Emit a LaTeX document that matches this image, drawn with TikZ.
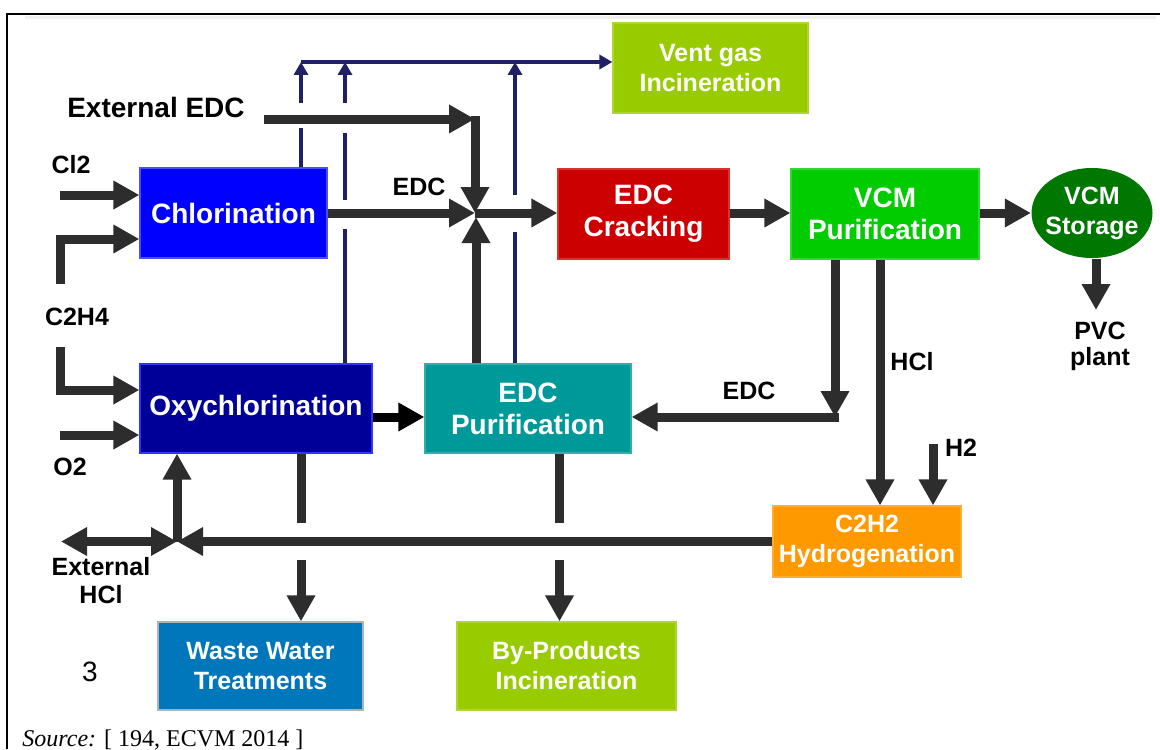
\documentclass[tikz,border=0pt]{standalone}
\usepackage{fontspec}
\setmainfont{Liberation Sans}
\newfontfamily\VcmSrcFont{Liberation Serif}
\usetikzlibrary{arrows.meta,shapes.geometric}

\definecolor{chlblue}{RGB}{0,0,255}
\definecolor{oxynavy}{RGB}{0,0,153}
\definecolor{crackred}{RGB}{204,0,0}
\definecolor{vcmgreen}{RGB}{0,204,0}
\definecolor{storegreen}{RGB}{0,119,0}
\definecolor{purteal}{RGB}{0,153,153}
\definecolor{hydorange}{RGB}{255,153,0}
\definecolor{incinlime}{RGB}{153,204,0}
\definecolor{wasteblue}{RGB}{0,119,187}
\definecolor{flowgray}{RGB}{45,45,45}
\definecolor{ventnavy}{RGB}{31,33,100}

\def\VcmFlowLW{4.5pt}
\def\VcmVentLW{2pt}
\def\VcmBoxFont{\fontsize{14}{16}\selectfont\bfseries}
\def\VcmBoxSmallFont{\fontsize{12.5}{15}\selectfont\bfseries}
\def\VcmLabelFont{\fontsize{12.5}{14}\selectfont\bfseries}
\newcommand{\VcmFlowStyles}{%
  \tikzset{
    vcbox/.style={rectangle, inner sep=0pt, align=center, text=white,
      font=\VcmBoxFont, line width=0.6pt},
    vcboxSmall/.style={vcbox, font=\VcmBoxSmallFont},
    vcboxChl/.style={vcbox, fill=chlblue, draw=chlblue!70!white,
      minimum width=93.5pt, minimum height=45pt},
    vcboxOxy/.style={vcbox, fill=oxynavy, draw=chlblue!80!white,
      minimum width=116pt, minimum height=44.5pt},
    vcboxCrack/.style={vcbox, fill=crackred, draw=crackred!80!white,
      minimum width=85.5pt, minimum height=45pt},
    vcboxVcm/.style={vcbox, fill=vcmgreen, draw=vcmgreen!80!white,
      minimum width=94pt, minimum height=45pt},
    vcboxStore/.style={vcboxSmall, ellipse, fill=storegreen, draw=none,
      inner sep=-2.5pt, minimum width=60.5pt, minimum height=45pt},
    vcboxVent/.style={vcboxSmall, fill=incinlime, draw=incinlime!80!white,
      minimum width=97.5pt, minimum height=45pt},
    vcboxPur/.style={vcbox, fill=purteal, draw=purteal!80!white,
      minimum width=103pt, minimum height=44.5pt},
    vcboxHyd/.style={vcboxSmall, fill=hydorange, draw=hydorange!80!white,
      minimum width=94pt, minimum height=35.5pt},
    vcboxWaste/.style={vcboxSmall, fill=wasteblue, draw=gray!60,
      minimum width=102.5pt, minimum height=44pt},
    vcboxByprod/.style={vcboxSmall, fill=incinlime, draw=incinlime!80!white,
      minimum width=109.5pt, minimum height=44pt},
    vclabel/.style={inner sep=0pt, align=center, font=\VcmLabelFont},
    vcflowline/.style={
      line width=\VcmFlowLW,
      draw=flowgray},
    vcflow/.style={
      vcflowline,
      -{Triangle[width=13.5pt,length=13pt]}},
    vcflowboth/.style={
      vcflowline,
      {Triangle[width=13.5pt,length=13pt]}-{Triangle[width=13.5pt,length=13pt]}},
    vcventline/.style={
      line width=\VcmVentLW,
      draw=ventnavy},
    vcventflow/.style={
      vcventline,
      -{Triangle[width=7pt,length=6.5pt]}},
  }%
}

\begin{document}
\begin{tikzpicture}[x=0.5pt, y=-0.5pt]
    \VcmFlowStyles
    \useasboundingbox (0,0) rectangle (1160,749);
    \draw[gray!12, line width=1.5pt] (25,17.5) -- (1156,17.5);
    \draw[line width=1.3pt] (7,749) -- (7,14) -- (1160,14);

    \node[vcboxChl] (chl) at (233.5,213) {Chlorination};
    \node[vcboxOxy] (oxy) at (256,408.5) {Oxychlorination};
    \node[vcboxCrack] (crack) at (643.5,214) {EDC\\Cracking};
    \node[vcboxVcm] (vcmpur) at (885,214) {VCM\\Purification};
    \node[vcboxStore] (store) at (1092,213) {VCM\\Storage};
    \node[vcboxVent] (vent) at (710.5,68) {Vent gas\\Incineration};
    \node[vcboxPur] (edcpur) at (528,408.5) {EDC\\Purification};
    \node[vcboxHyd] (hyd) at (867,541.5) {C2H2\\Hydrogenation};
    \node[vcboxWaste] (waste) at (260.5,666) {Waste Water\\Treatments};
    \node[vcboxByprod] (byprod) at (566.5,666) {By-Products\\Incineration};

    \node[vclabel, font=\fontsize{14}{16}\selectfont\bfseries] (extedclab) at (156,107) {External EDC};
    \node[vclabel] (cllab) at (71,165) {Cl2};
    \node[vclabel] (ethlab) at (77,317) {C2H4};
    \node[vclabel] (o2lab) at (70,467) {O2};
    \node[vclabel] (edclab) at (419,187) {EDC};
    \node[vclabel] (reclab) at (749,391) {EDC};
    \node[vclabel] (hcllab) at (912,362) {HCl};
    \node[vclabel] (h2lab) at (961,448) {H2};
    \node[vclabel, font=\fontsize{12.5}{13}\selectfont\bfseries, anchor=north] (pvc) at (1100,322) {PVC\\plant};
    \node[vclabel, font=\fontsize{12.5}{14}\selectfont\bfseries] (exthcllab) at (101,581) {External\\HCl};
    \node[inner sep=0pt, font=\fontsize{14}{16}\selectfont] (fignum) at (90,672) {3};
    \node[inner sep=0pt, anchor=base west, font=\VcmSrcFont\fontsize{12}{14}\selectfont] (src) at (22,746)
      {\textit{Source:} [ 194, ECVM 2014 ]};

    \coordinate (ventbus) at (301,62);
    \coordinate (ventBx) at (345,62);
    \coordinate (ventCx) at (515,62);
    \coordinate (ventAlo) at (301,128);
    \coordinate (ventAhi) at (301,103);
    \coordinate (ventBlo) at (345,229);
    \coordinate (ventBmid) at (345,200);
    \coordinate (ventBmidhi) at (345,133);
    \coordinate (ventBhi) at (345,103);
    \coordinate (ventClo) at (515,232);
    \coordinate (ventChi) at (515,195);
    \draw[vcventflow] (ventbus) -- (ventbus -| vent.west);
    \draw[vcventline] (ventbus |- chl.north) -- (ventAlo);
    \draw[vcventflow] (ventAhi) -- (ventbus);
    \draw[vcventline] (ventBx |- oxy.north) -- (ventBlo);
    \draw[vcventline] (ventBmid) -- (ventBmidhi);
    \draw[vcventflow] (ventBhi) -- (ventBx);
    \draw[vcventline] (ventCx |- edcpur.north) -- (ventClo);
    \draw[vcventflow] (ventChi) -- (ventCx);

    \coordinate (clin) at (60,195);
    \coordinate (ethA) at (60,284);
    \coordinate (ethB) at (60,347);
    \coordinate (oxin) at (60,435);
    \draw[vcflow] (clin) -- (clin -| chl.west);
    \draw[vcflow] (ethA) |- ([yshift=-13pt]chl.west);
    \draw[vcflow] (ethB) |- ([yshift=9.25pt]oxy.west);
    \draw[vcflow] (oxin) -- (oxin -| oxy.west);

    \coordinate (extedc) at (264,119);
    \coordinate (edcturn) at (475,119);
    \coordinate (mix) at (475,213);
    \draw[vcflow] (extedc) -- (edcturn);
    \draw[vcflow] ([yshift=1.5pt]edcturn) -- (mix);
    \draw[vcflow] (chl.east) -- (mix);
    \draw[vcflow] (mix) -- (mix -| crack.west);
    \draw[vcflow] ([xshift=0.5pt]mix |- edcpur.north) -- ([xshift=0.5pt,yshift=-2pt]mix);
    \draw[vcflow] (crack.east |- mix) -- (mix -| vcmpur.west);
    \draw[vcflow] (vcmpur.east |- mix) -- (mix -| store.west);
    \draw[vcflow] ([xshift=2pt]store.south) -- ([xshift=2pt,yshift=6pt]store.south |- pvc.north);

    \coordinate (recturn) at (835,417);
    \draw[vcflow] (recturn |- vcmpur.south) -- (recturn);
    \draw[vcflow] ([xshift=2pt]recturn) -- (recturn -| edcpur.east);
    \draw[vcflow] ([xshift=-2.5pt]vcmpur.south) -- ([xshift=-2.5pt]vcmpur.south |- hyd.north);
    \coordinate (h2in) at (933,444);
    \draw[vcflow] (h2in) -- (h2in |- hyd.north);

    \coordinate (hclmix) at (177,541.5);
    \coordinate (exthcl) at (61,541.5);
    \draw[vcflow] (hyd.west) -- (hclmix);
    \draw[vcflow] (hclmix) -- (hclmix |- oxy.south);
    \draw[vcflowboth] (exthcl) -- (hclmix);
    \draw[vcflow, draw=black] ([yshift=-4.25pt]oxy.east) -- ([yshift=-4.25pt]oxy.east -| edcpur.west);

    \coordinate (wwgaphi) at (301,523);
    \coordinate (wwgaplo) at (301,560);
    \coordinate (bpgaphi) at (559.5,523);
    \coordinate (bpgaplo) at (559.5,560);
    \draw[vcflowline] (wwgaphi |- oxy.south) -- (wwgaphi);
    \draw[vcflow] (wwgaplo) -- (wwgaplo |- waste.north);
    \draw[vcflowline] (bpgaphi |- edcpur.south) -- (bpgaphi);
    \draw[vcflow] (bpgaplo) -- (bpgaplo |- byprod.north);
  \end{tikzpicture}
\end{document}
